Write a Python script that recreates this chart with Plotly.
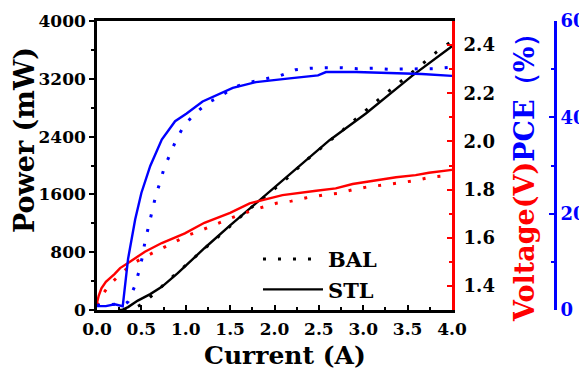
import plotly.graph_objects as go

# ---------------- data ----------------
# Output power (mW)
i_pow_stl = [0.25, 0.28, 0.35, 0.46, 0.6, 0.73, 0.91, 1.21, 1.5, 1.83, 2.2, 2.62, 3.03, 3.55, 4.0]
p_stl = [0, 0, 40, 130, 220, 320, 510, 855, 1170, 1520, 1910, 2350, 2720, 3240, 3650]

i_pow_bal = [0.3, 0.4, 0.5, 0.63, 0.76, 0.9, 1.04, 1.17, 1.4, 1.7, 2.09, 2.36, 2.77, 3.2, 3.7, 3.83, 4.0]
p_bal = [0, 15, 75, 210, 360, 515, 670, 805, 1050, 1380, 1765, 2075, 2490, 2940, 3440, 3575, 3720]

# Voltage (V)
i_v_stl = [0.0, 0.02, 0.05, 0.1, 0.2, 0.26, 0.35, 0.54, 0.73, 0.99, 1.21, 1.5, 1.72, 2.09, 2.47,
           2.69, 2.88, 3.22, 3.37, 3.59, 3.74, 4.0]
v_stl = [1.33, 1.36, 1.39, 1.417, 1.45, 1.474, 1.495, 1.542, 1.578, 1.618, 1.662, 1.703, 1.743, 1.777,
         1.795, 1.805, 1.823, 1.842, 1.851, 1.86, 1.87, 1.882]

i_v_bal = [0.0, 0.05, 0.15, 0.28, 0.41, 0.54, 0.71, 0.87, 1.03, 1.18, 1.4, 1.6, 1.85, 2.02, 2.19,
           2.36, 2.54, 2.71, 2.89, 3.06, 3.23, 3.4, 3.58, 3.75, 3.93, 4.0]
v_bal = [1.32, 1.358, 1.408, 1.455, 1.494, 1.521, 1.552, 1.583, 1.611, 1.632, 1.665, 1.695, 1.725,
         1.743, 1.752, 1.766, 1.777, 1.784, 1.8, 1.812, 1.819, 1.828, 1.837, 1.851, 1.856, 1.86]

# Power conversion efficiency (%)
i_pce_stl = [0.0, 0.1, 0.2, 0.29, 0.35, 0.43, 0.5, 0.6, 0.73, 0.88, 1.01, 1.19, 1.53, 1.79, 2.17,
             2.49, 2.58, 2.92, 3.29, 3.66, 4.0]
pce_stl = [0.8, 0.8, 1.2, 0.8, 10.6, 18.8, 24.3, 29.9, 35.4, 39.2, 40.8, 43.3, 46.1, 47.3, 48.1,
           48.7, 49.4, 49.4, 49.2, 49.0, 48.6]

i_pce_bal = [0.0, 0.1, 0.2, 0.3, 0.35, 0.42, 0.47, 0.51, 0.54, 0.58, 0.62, 0.66, 0.71, 0.76, 0.83,
             0.9, 0.99, 1.11, 1.25, 1.4, 1.55, 1.73, 1.9, 2.07, 2.24, 2.41, 2.59, 2.76, 2.93, 3.11,
             3.28, 3.45, 3.63, 3.8, 4.0]
pce_bal = [1.0, 1.0, 1.2, 1.0, 1.7, 4.7, 7.8, 10.9, 14.1, 17.4, 20.5, 23.6, 26.5, 29.7, 32.6,
           35.7, 38.5, 40.9, 43.0, 44.5, 46.3, 47.3, 48.0, 48.7, 49.9, 50.2, 50.3, 50.3, 50.1, 50.2,
           50.0, 50.0, 50.1, 50.1, 50.4]

x_ticks = [0.0, 0.5, 1.0, 1.5, 2.0, 2.5, 3.0, 3.5, 4.0]
power_ticks = [0, 800, 1600, 2400, 3200, 4000]
volt_ticks = [1.4, 1.6, 1.8, 2.0, 2.2, 2.4]
pce_ticks = [0, 20, 40, 60]

# ---------------- styling ----------------
BLACK = "#000000"
RED = "#FF0000"
BLUE = "#0000FF"
DOT = "3px,12px"
FONT = "DejaVu Serif"

fig = go.Figure()


def add(x, y, axis, color, dotted):
    fig.add_trace(go.Scatter(
        x=x, y=y, yaxis=axis, mode="lines", showlegend=False, hoverinfo="skip",
        line=dict(color=color, width=3 if dotted else 2.4, dash=DOT if dotted else "solid"),
    ))


add(i_pow_bal, p_bal, "y", BLACK, True)
add(i_pow_stl, p_stl, "y", BLACK, False)
add(i_v_bal, v_bal, "y2", RED, True)
add(i_v_stl, v_stl, "y2", RED, False)
add(i_pce_bal, pce_bal, "y3", BLUE, True)
add(i_pce_stl, pce_stl, "y3", BLUE, False)

# legend entries
fig.add_trace(go.Scatter(x=[None], y=[None], mode="lines", name="BAL",
                         line=dict(color=BLACK, width=3, dash=DOT)))
fig.add_trace(go.Scatter(x=[None], y=[None], mode="lines", name="STL",
                         line=dict(color=BLACK, width=2.4)))

tickfont = dict(family=FONT, size=17, color=BLACK, weight="bold")

# page body has an 8px margin, so the figure is 8px smaller than the window
fig.update_layout(
    width=579, height=363,
    margin=dict(l=89, r=32, t=13, b=61, autoexpand=False),
    plot_bgcolor="white", paper_bgcolor="white",
    font=dict(family=FONT, color=BLACK),
    xaxis=dict(
        domain=[0, 0.7751], range=[0, 4], tickvals=x_ticks, tickformat=".1f",
        ticks="inside", ticklen=5, tickwidth=2, tickcolor=BLACK,
        minor=dict(dtick=0.25, ticks="inside", ticklen=3, tickwidth=1.5, tickcolor=BLACK),
        showline=True, linecolor=BLACK, linewidth=2.5, mirror=True, automargin=False,
        showgrid=False, zeroline=False, tickfont=tickfont, ticklabelstandoff=2,
    ),
    yaxis=dict(
        range=[0, 4000], tickvals=power_ticks, automargin=False,
        ticks="outside", ticklen=5, tickwidth=2, tickcolor=BLACK,
        minor=dict(dtick=400, ticks="outside", ticklen=3, tickwidth=1.5, tickcolor=BLACK),
        showline=True, linecolor=BLACK, linewidth=2.5,
        showgrid=False, zeroline=False, tickfont=tickfont,
    ),
    yaxis2=dict(
        overlaying="y", side="right", anchor="x", automargin=False,
        range=[1.3, 2.5], tickvals=volt_ticks, tickformat=".1f",
        ticks="inside", ticklen=5, tickwidth=2, tickcolor=RED,
        minor=dict(dtick=0.1, ticks="inside", ticklen=3, tickwidth=1.5, tickcolor=RED),
        showline=True, linecolor=RED, linewidth=3,
        showgrid=False, zeroline=False, ticklabelstandoff=5,
        tickfont=dict(family=FONT, size=18, color=BLACK, weight="bold"),
    ),
    yaxis3=dict(
        overlaying="y", side="right", anchor="free", position=1.0, automargin=False,
        range=[0, 60], tickvals=pce_ticks,
        ticks="inside", ticklen=5, tickwidth=2, tickcolor=BLUE,
        minor=dict(dtick=10, ticks="inside", ticklen=3, tickwidth=1.5, tickcolor=BLUE),
        showline=True, linecolor=BLUE, linewidth=3,
        showgrid=False, zeroline=False,
        tickfont=dict(family=FONT, size=18, color=BLUE, weight="bold"),
    ),
    legend=dict(
        x=0.3515, y=0.246, xanchor="left", yanchor="top",
        bgcolor="rgba(0,0,0,0)", itemwidth=60, tracegroupgap=0,
        font=dict(family=FONT, size=21, color=BLACK, weight="bold"),
    ),
    annotations=[
        dict(text="Power (mW)", xref="paper", yref="paper", x=-0.1594, y=0.588,
             textangle=-90, showarrow=False, xanchor="center", yanchor="middle",
             font=dict(family=FONT, size=27, color=BLACK, weight="bold")),
        dict(text="Current (A)", xref="paper", yref="paper", x=0.4105, y=-0.156,
             showarrow=False, xanchor="center", yanchor="middle",
             font=dict(family=FONT, size=25, color=BLACK, weight="bold")),
        dict(text="<span style='color:#FF0000'>Voltage(V)</span><span style='color:#0000FF'>PCE（%）</span>",
             xref="paper", yref="paper", x=0.9345, y=0.481,
             textangle=-90, showarrow=False, xanchor="center", yanchor="middle",
             font=dict(family=FONT, size=27, color=BLACK, weight="bold")),
    ],
)

fig.write_html("out.html")
